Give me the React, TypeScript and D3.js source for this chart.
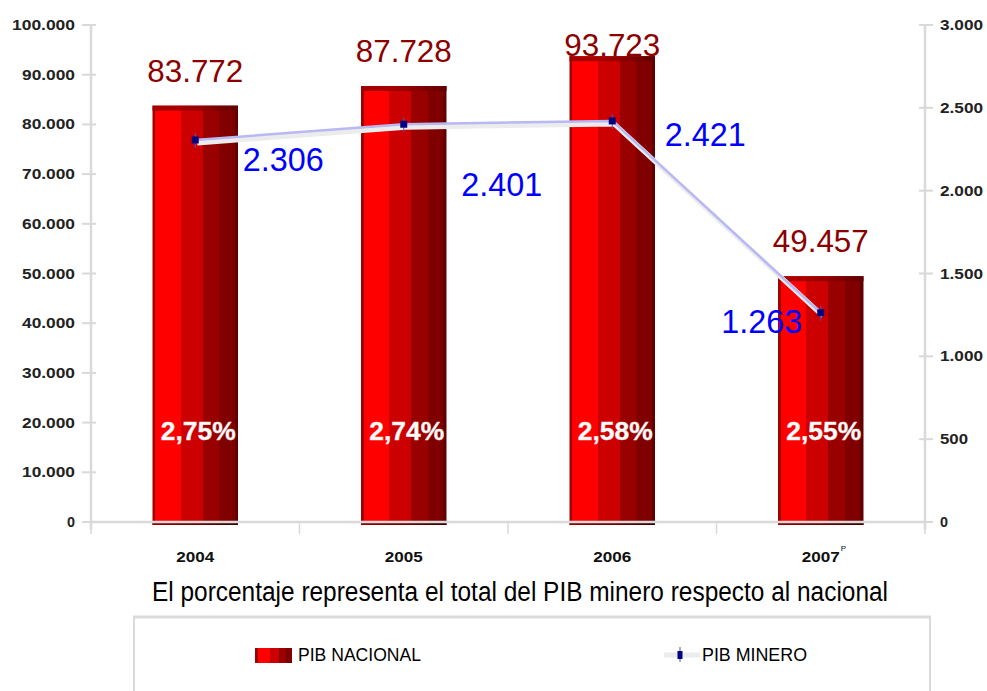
import React from "react";
import * as d3 from "d3";

const years = ["2004", "2005", "2006", "2007"];
const pibNacional = [83772, 87728, 93723, 49457];
const pibMinero = [2306, 2401, 2421, 1263];
const nacionalLabels = ["83.772", "87.728", "93.723", "49.457"];
const mineroLabels = ["2.306", "2.401", "2.421", "1.263"];
const pctLabels = ["2,75%", "2,74%", "2,58%", "2,55%"];
const leftTicks = [0, 10000, 20000, 30000, 40000, 50000, 60000, 70000, 80000, 90000, 100000];
const rightTicks = [0, 500, 1000, 1500, 2000, 2500, 3000];
const subtitle = "El porcentaje representa el total del PIB minero respecto al nacional";
const legendNames = ["PIB NACIONAL", "PIB MINERO"];

// manual label offsets (layout), relative to point
const mineroLabelOffsets: [number, number][] = [
  [88, 31],
  [98, 72],
  [93, 25],
  [-59, 20],
];

const fmt = (v: number) => (v === 0 ? "0" : d3.format(",")(v).replace(/,/g, "."));
const textLen = (s: string, digit = 10, dot = 5) =>
  s.split("").reduce((a, c) => a + (c === "." || c === "," ? dot : digit), 0);

export default function App() {
  const W = 987,
    H = 691;
  const left = 91,
    right = 925,
    top = 25,
    bottom = 522;
  const x = d3.scaleBand().domain(years).range([left, right]).paddingInner(0.59).paddingOuter(0.295);
  const yL = d3.scaleLinear().domain([0, 100000]).range([bottom, top]);
  const yR = d3.scaleLinear().domain([0, 3000]).range([bottom, top]);
  const bw = x.bandwidth();
  const step = x.step();
  const cx = (y: string) => (x(y) as number) + bw / 2;

  const line = d3
    .line<number>()
    .x((_, i) => cx(years[i]))
    .y((d) => yR(d));
  const shadowLine = d3
    .line<number>()
    .x((_, i) => cx(years[i]) + 2)
    .y((d) => yR(d) + 3);

  const axisColor = "#d9d9d9";
  const font = "'Liberation Sans', Arial, sans-serif";

  const boundaries = d3.range(years.length + 1).map((i) => left + i * step);

  return (
    <svg width={W} height={H} style={{ position: "absolute", left: 0, top: 0, background: "#fff" }}>
      <defs>
        <linearGradient id="barGrad" x1="0" x2="1" y1="0" y2="0">
          <stop offset="0" stopColor="#a00000" />
          <stop offset="0.035" stopColor="#a00000" />
          <stop offset="0.035" stopColor="#ff0000" />
          <stop offset="0.33" stopColor="#ff0000" />
          <stop offset="0.33" stopColor="#cc0000" />
          <stop offset="0.59" stopColor="#cc0000" />
          <stop offset="0.59" stopColor="#990000" />
          <stop offset="0.78" stopColor="#990000" />
          <stop offset="0.78" stopColor="#800000" />
          <stop offset="0.96" stopColor="#800000" />
          <stop offset="0.96" stopColor="#600000" />
          <stop offset="1" stopColor="#600000" />
        </linearGradient>
        <linearGradient id="topGrad" x1="0" x2="1" y1="0" y2="0">
          <stop offset="0" stopColor="#a00000" />
          <stop offset="0.33" stopColor="#a80000" />
          <stop offset="0.59" stopColor="#900000" />
          <stop offset="0.78" stopColor="#780000" />
          <stop offset="1" stopColor="#600000" />
        </linearGradient>
        <linearGradient id="botGrad" x1="0" x2="1" y1="0" y2="0">
          <stop offset="0" stopColor="#900000" />
          <stop offset="0.5" stopColor="#700000" />
          <stop offset="1" stopColor="#300000" />
        </linearGradient>
        <linearGradient id="legGrad" x1="0" x2="1" y1="0" y2="0">
          <stop offset="0" stopColor="#a00000" />
          <stop offset="0.08" stopColor="#a00000" />
          <stop offset="0.08" stopColor="#ff0000" />
          <stop offset="0.4" stopColor="#ff0000" />
          <stop offset="0.4" stopColor="#cc0000" />
          <stop offset="0.65" stopColor="#cc0000" />
          <stop offset="0.65" stopColor="#990000" />
          <stop offset="0.85" stopColor="#990000" />
          <stop offset="0.85" stopColor="#800000" />
          <stop offset="1" stopColor="#800000" />
        </linearGradient>
      </defs>

      {/* bars */}
      {pibNacional.map((v, i) => {
        const bx = x(years[i]) as number;
        const by = yL(v);
        return (
          <g key={"bar" + i}>
            <rect x={bx} y={by} width={bw} height={bottom - by + 3} fill="url(#barGrad)" />
            <rect x={bx} y={by} width={bw} height={5} fill="url(#topGrad)" />
            <rect x={bx} y={bottom - 1} width={bw} height={4} fill="url(#botGrad)" />
          </g>
        );
      })}

      {/* axes */}
      <line x1={left} x2={left} y1={top} y2={bottom + 8} stroke={axisColor} strokeWidth={2.5} />
      <line x1={right} x2={right} y1={top} y2={bottom + 8} stroke={axisColor} strokeWidth={2.5} />
      <line x1={left} x2={right} y1={bottom} y2={bottom} stroke={axisColor} strokeWidth={2.5} />
      {leftTicks.map((t) => (
        <g key={"lt" + t}>
          <line x1={left - 9} x2={left + 5} y1={yL(t)} y2={yL(t)} stroke={axisColor} strokeWidth={2} />
          <text
            x={75}
            y={yL(t) + 5}
            textAnchor="end"
            fontFamily={font}
            fontSize={14}
            fontWeight="bold"
            fill="#222"
            textLength={textLen(fmt(t)) - 2}
            lengthAdjust="spacingAndGlyphs"
          >
            {fmt(t)}
          </text>
        </g>
      ))}
      {rightTicks.map((t) => (
        <g key={"rt" + t}>
          <line x1={right - 6} x2={right + 8} y1={yR(t)} y2={yR(t)} stroke={axisColor} strokeWidth={2} />
          <text
            x={940}
            y={yR(t) + 5}
            textAnchor="start"
            fontFamily={font}
            fontSize={14}
            fontWeight="bold"
            fill="#222"
            textLength={textLen(fmt(t)) - 2}
            lengthAdjust="spacingAndGlyphs"
          >
            {fmt(t)}
          </text>
        </g>
      ))}
      {boundaries.map((b, i) => (
        <line key={"xt" + i} x1={b} x2={b} y1={bottom} y2={bottom + 12} stroke={axisColor} strokeWidth={1.5} />
      ))}

      {/* x labels */}
      {years.map((yv, i) => (
        <g key={"xl" + i}>
          <text
            x={cx(yv)}
            y={562}
            textAnchor="middle"
            fontFamily={font}
            fontSize={14}
            fontWeight="bold"
            fill="#111"
            textLength={38}
            lengthAdjust="spacingAndGlyphs"
          >
            {yv}
          </text>
          {i === years.length - 1 && (
            <text x={cx(yv) + 20} y={551} fontFamily={font} fontSize={8} fill="#111">
              P
            </text>
          )}
        </g>
      ))}

      {/* subtitle */}
      <text
        x={152}
        y={601}
        fontFamily={font}
        fontSize={27}
        fill="#000"
        textLength={736}
        lengthAdjust="spacingAndGlyphs"
      >
        {subtitle}
      </text>

      {/* nacional value labels */}
      {pibNacional.map((v, i) => (
        <text
          key={"nl" + i}
          x={cx(years[i])}
          y={Math.max(yL(v) - 24, 56)}
          textAnchor="middle"
          fontFamily={font}
          fontSize={31}
          fill="#8b0000"
          textLength={96}
          lengthAdjust="spacingAndGlyphs"
        >
          {nacionalLabels[i]}
        </text>
      ))}

      {/* percentage labels */}
      {pctLabels.map((p, i) => (
        <text
          key={"pl" + i}
          x={cx(years[i]) + 3}
          y={440}
          textAnchor="middle"
          fontFamily={font}
          fontSize={25}
          fontWeight="bold"
          fill="#ffffff"
          stroke="#ffdddd"
          strokeWidth={0.4}
          textLength={75}
          lengthAdjust="spacingAndGlyphs"
        >
          {p}
        </text>
      ))}

      {/* minero line */}
      <path d={shadowLine(pibMinero) || ""} fill="none" stroke="#ececec" strokeWidth={5} />
      <path d={line(pibMinero) || ""} fill="none" stroke="#b8b8f4" strokeWidth={2.5} />
      {pibMinero.map((v, i) => (
        <g key={"mk" + i}>
          <line
            x1={cx(years[i])}
            x2={cx(years[i])}
            y1={yR(v) - 7}
            y2={yR(v) + 8}
            stroke="#5555bb"
            strokeWidth={1}
          />
          <rect x={cx(years[i]) - 3.5} y={yR(v) - 3.5} width={7} height={7} fill="#000080" />
        </g>
      ))}
      {pibMinero.map((v, i) => (
        <text
          key={"ml" + i}
          x={cx(years[i]) + mineroLabelOffsets[i][0]}
          y={yR(v) + mineroLabelOffsets[i][1]}
          textAnchor="middle"
          fontFamily={font}
          fontSize={33}
          fill="#0000ff"
          textLength={81}
          lengthAdjust="spacingAndGlyphs"
        >
          {mineroLabels[i]}
        </text>
      ))}

      {/* legend box */}
      <line x1={133} x2={931} y1={617} y2={617} stroke={axisColor} strokeWidth={3} />
      <line x1={134} x2={134} y1={617} y2={H} stroke={axisColor} strokeWidth={2} />
      <line x1={930} x2={930} y1={617} y2={H} stroke={axisColor} strokeWidth={2} />

      <rect x={255} y={648} width={37} height={15} fill="url(#legGrad)" />
      <text
        x={298}
        y={661}
        fontFamily={font}
        fontSize={18}
        fill="#000"
        textLength={123}
        lengthAdjust="spacingAndGlyphs"
      >
        {legendNames[0]}
      </text>
      <line x1={664} x2={700} y1={655} y2={655} stroke="#ececec" strokeWidth={5} />
      <line x1={680} x2={680} y1={647} y2={662} stroke="#5555bb" strokeWidth={1} />
      <rect x={677.5} y={651} width={5} height={8} fill="#000080" />
      <text
        x={702}
        y={661}
        fontFamily={font}
        fontSize={18}
        fill="#000"
        textLength={105}
        lengthAdjust="spacingAndGlyphs"
      >
        {legendNames[1]}
      </text>
    </svg>
  );
}
